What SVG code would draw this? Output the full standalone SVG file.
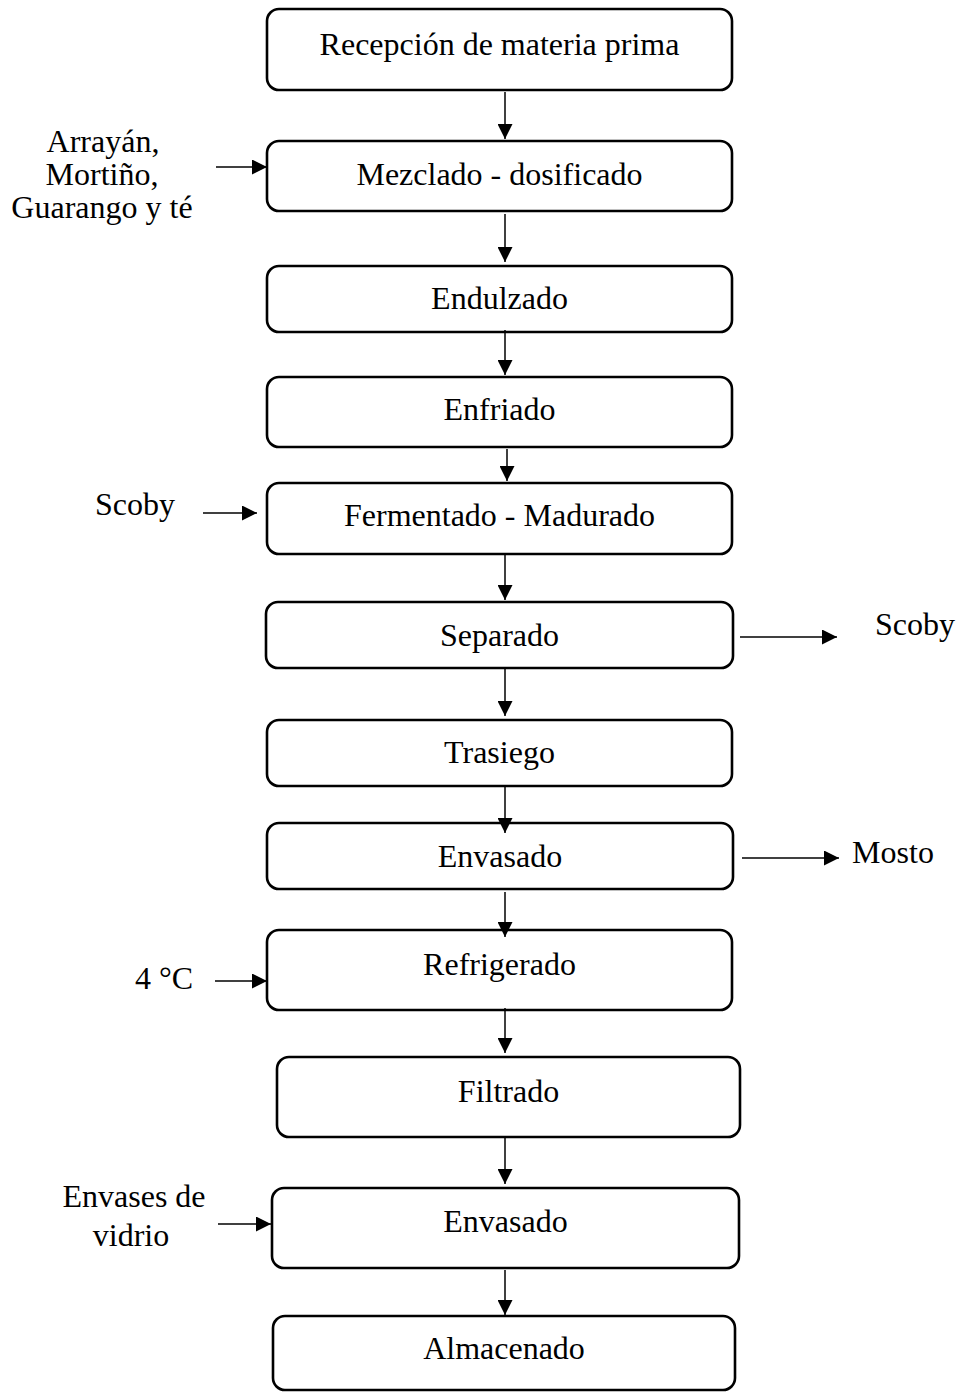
<svg xmlns="http://www.w3.org/2000/svg" width="960" height="1392" viewBox="0 0 960 1392">
<style>
.box{fill:#ffffff;stroke:#000000;stroke-width:2.6}
.t{font-family:"Liberation Serif","Times New Roman",serif;font-size:32px;fill:#000000;text-anchor:middle}
.c{stroke:#000000;stroke-width:1.5;fill:none;marker-end:url(#ah)}
</style>
<defs>
<marker id="ah" markerUnits="userSpaceOnUse" markerWidth="15" markerHeight="15" refX="15" refY="7.5" orient="auto">
<path d="M0,0 L15,7.5 L0,15 Z" fill="#000000"/>
</marker>
</defs>
<rect width="960" height="1392" fill="#ffffff"/>
<g id="n1"><rect class="box" x="267" y="9" width="465" height="81" rx="12"/><text class="t" x="499.5" y="55">Recepción de materia prima</text></g>
<g id="n2"><rect class="box" x="267" y="141" width="465" height="70" rx="12"/><text class="t" x="499.5" y="185">Mezclado - dosificado</text></g>
<g id="n3"><rect class="box" x="267" y="266" width="465" height="66" rx="12"/><text class="t" x="499.5" y="309">Endulzado</text></g>
<g id="n4"><rect class="box" x="267" y="377" width="465" height="70" rx="12"/><text class="t" x="499.5" y="420">Enfriado</text></g>
<g id="n5"><rect class="box" x="267" y="483" width="465" height="71" rx="12"/><text class="t" x="499.5" y="526">Fermentado - Madurado</text></g>
<g id="n6"><rect class="box" x="266" y="602" width="467" height="66" rx="12"/><text class="t" x="499.5" y="646">Separado</text></g>
<g id="n7"><rect class="box" x="267" y="720" width="465" height="66" rx="12"/><text class="t" x="499.5" y="763">Trasiego</text></g>
<g id="n8"><rect class="box" x="267" y="823" width="466" height="66" rx="12"/><text class="t" x="500" y="867">Envasado</text></g>
<g id="n9"><rect class="box" x="267" y="930" width="465" height="80" rx="12"/><text class="t" x="499.5" y="975">Refrigerado</text></g>
<g id="n10"><rect class="box" x="277" y="1057" width="463" height="80" rx="12"/><text class="t" x="508.5" y="1102">Filtrado</text></g>
<g id="n11"><rect class="box" x="272" y="1188" width="467" height="80" rx="12"/><text class="t" x="505.5" y="1232">Envasado</text></g>
<g id="n12"><rect class="box" x="273" y="1316" width="462" height="74" rx="12"/><text class="t" x="504" y="1359">Almacenado</text></g>
<g id="in-arrayan"><text class="t" x="103" y="152">Arrayán,</text><text class="t" x="102" y="185">Mortiño,</text><text class="t" x="102" y="218">Guarango y té</text></g>
<g id="in-scoby"><text class="t" x="135" y="515">Scoby</text></g>
<g id="out-scoby"><text class="t" x="915" y="635">Scoby</text></g>
<g id="out-mosto"><text class="t" x="893" y="863">Mosto</text></g>
<g id="in-temp"><text class="t" x="164" y="989">4 °C</text></g>
<g id="in-envases"><text class="t" x="134" y="1207">Envases de</text><text class="t" x="131" y="1246">vidrio</text></g>
<g id="connectors">
<line class="c" x1="505" y1="92" x2="505" y2="139"/>
<line class="c" x1="505" y1="214" x2="505" y2="262"/>
<line class="c" x1="505" y1="330" x2="505" y2="375"/>
<line class="c" x1="507" y1="449" x2="507" y2="481"/>
<line class="c" x1="505" y1="555" x2="505" y2="600"/>
<line class="c" x1="505" y1="668" x2="505" y2="716"/>
<line class="c" x1="505" y1="787" x2="505" y2="833"/>
<line class="c" x1="505" y1="892" x2="505" y2="937"/>
<line class="c" x1="505" y1="1008" x2="505" y2="1053"/>
<line class="c" x1="505" y1="1138" x2="505" y2="1184"/>
<line class="c" x1="505" y1="1270" x2="505" y2="1315"/>
<line class="c" x1="216" y1="167" x2="267" y2="167"/>
<line class="c" x1="203" y1="513" x2="257" y2="513"/>
<line class="c" x1="740" y1="637" x2="837" y2="637"/>
<line class="c" x1="742" y1="858" x2="839" y2="858"/>
<line class="c" x1="215" y1="981" x2="267" y2="981"/>
<line class="c" x1="218" y1="1224" x2="271" y2="1224"/>
</g>
</svg>
